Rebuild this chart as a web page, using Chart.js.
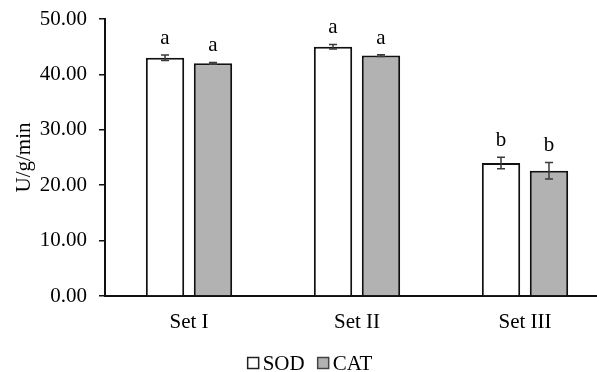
<!DOCTYPE html>
<html>
<head>
<meta charset="utf-8">
<script src="https://cdn.jsdelivr.net/npm/chart.js@4.4.1/dist/chart.umd.min.js"></script>
<style>
  html, body { margin: 0; padding: 0; background: #fff; overflow: hidden; }
  #wrap { width: 597px; height: 372px; overflow: hidden; position: relative; }
  canvas { display: block; }
</style>
</head>
<body>
<div id="wrap"><canvas id="c" width="609" height="372" style="width:609px;height:372px"></canvas></div>
<script>
// Enzyme activity per set
const categories = ['Set I', 'Set II', 'Set III'];
const sodValues = [43.0, 45.0, 24.0];
const catValues = [42.0, 43.4, 22.6];
const sodErrors = [0.5, 0.4, 1.05];
const catErrors = [0.15, 0.15, 1.5];
const sodLetters = ['a', 'a', 'b'];
const catLetters = ['a', 'a', 'b'];
const yTicks = [0, 10, 20, 30, 40, 50];

const SERIF = '"Liberation Serif", "Times New Roman", serif';
const FONT_SIZE = 21;

// Error bars and significance letters drawn over each bar
const errorBarPlugin = {
  id: 'errorBars',
  afterDatasetsDraw(chart) {
    const ctx = chart.ctx;
    const y = chart.scales.y;
    chart.data.datasets.forEach((ds, di) => {
      const meta = chart.getDatasetMeta(di);
      meta.data.forEach((bar, i) => {
        const v = ds.data[i];
        const e = ds.errors[i];
        const yTop = y.getPixelForValue(v + e);
        const yBot = y.getPixelForValue(v - e);
        const x = bar.x;
        ctx.save();
        ctx.strokeStyle = '#3a3a3a';
        ctx.lineWidth = 1.5;
        ctx.beginPath();
        ctx.moveTo(x, yTop); ctx.lineTo(x, yBot);
        ctx.moveTo(x - 4, yTop); ctx.lineTo(x + 4, yTop);
        ctx.moveTo(x - 4, yBot); ctx.lineTo(x + 4, yBot);
        ctx.stroke();
        ctx.fillStyle = '#000';
        ctx.font = FONT_SIZE + 'px ' + SERIF;
        ctx.textAlign = 'center';
        ctx.textBaseline = 'alphabetic';
        ctx.fillText(ds.letters[i], x, yTop - 11);
        ctx.restore();
      });
    });
  }
};

// Legend row beneath the category labels
const legendPlugin = {
  id: 'bottomLegend',
  afterDraw(chart) {
    const ctx = chart.ctx;
    ctx.save();
    ctx.font = FONT_SIZE + 'px ' + SERIF;
    ctx.textBaseline = 'middle';
    ctx.textAlign = 'left';
    const cy = 363;
    const box = 11;
    const items = chart.data.datasets.map(ds => ({ label: ds.label, fill: ds.backgroundColor, stroke: ds.legendStroke }));
    const gapBoxText = 4, gapItems = 13;
    let total = 0;
    items.forEach((it, k) => {
      total += box + gapBoxText + ctx.measureText(it.label).width;
      if (k < items.length - 1) total += gapItems;
    });
    let x = 310 - total / 2;
    items.forEach(it => {
      ctx.fillStyle = it.fill;
      ctx.fillRect(x, cy - box / 2, box, box);
      ctx.strokeStyle = it.stroke;
      ctx.lineWidth = 1.5;
      ctx.strokeRect(x, cy - box / 2, box, box);
      x += box + gapBoxText;
      ctx.fillStyle = '#000';
      ctx.fillText(it.label, x, cy + 1);
      x += ctx.measureText(it.label).width + gapItems;
    });
    ctx.restore();
  }
};

new Chart(document.getElementById('c'), {
  type: 'bar',
  data: {
    labels: categories,
    datasets: [
      {
        label: 'SOD',
        data: sodValues,
        errors: sodErrors,
        letters: sodLetters,
        backgroundColor: '#ffffff',
        borderColor: '#111111',
        legendStroke: '#222222',
        borderWidth: 2,
        borderSkipped: 'start',
        categoryPercentage: 0.571,
        barPercentage: 0.8
      },
      {
        label: 'CAT',
        data: catValues,
        errors: catErrors,
        letters: catLetters,
        backgroundColor: '#b2b2b2',
        borderColor: '#111111',
        legendStroke: '#444444',
        borderWidth: 2,
        borderSkipped: 'start',
        categoryPercentage: 0.571,
        barPercentage: 0.8
      }
    ]
  },
  options: {
    responsive: false,
    animation: false,
    layout: { padding: { top: 19, right: 0, bottom: 0, left: 0 } },
    plugins: {
      legend: { display: false },
      tooltip: { enabled: false }
    },
    scales: {
      x: {
        grid: { display: false, drawTicks: false },
        border: { display: true, color: '#111', width: 2 },
        ticks: {
          color: '#000',
          font: { family: SERIF, size: FONT_SIZE },
          padding: 14
        },
        afterFit(scale) { scale.height = 76; }
      },
      y: {
        min: 0,
        max: 50,
        afterBuildTicks(scale) { scale.ticks = yTicks.map(v => ({ value: v })); },
        grid: { drawOnChartArea: false, drawTicks: true, tickLength: 6, color: '#111', lineWidth: 1.5 },
        border: { display: true, color: '#111', width: 2 },
        ticks: {
          color: '#000',
          font: { family: SERIF, size: FONT_SIZE },
          padding: 12,
          callback: v => Number(v).toFixed(2)
        },
        title: {
          display: true,
          text: 'U/g/min',
          color: '#000',
          font: { family: SERIF, size: FONT_SIZE },
          padding: { top: 12, bottom: 0 }
        },
        afterFit(scale) {
          scale.width = 105;
          scale.paddingTop = 0;
          scale.paddingBottom = 0;
        }
      }
    }
  },
  plugins: [errorBarPlugin, legendPlugin]
});
</script>
</body>
</html>
